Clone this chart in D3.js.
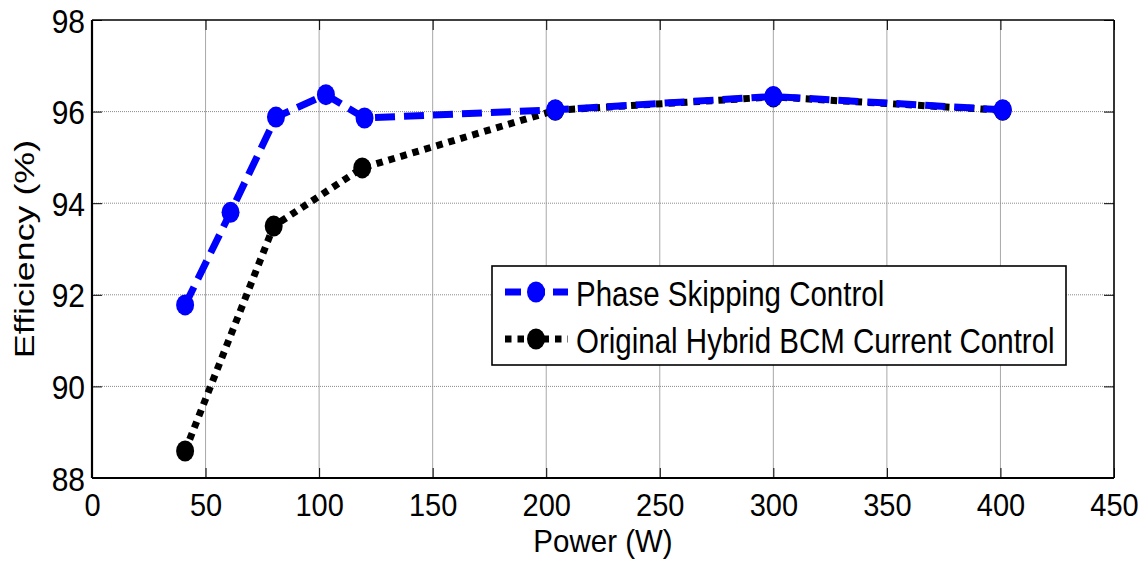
<!DOCTYPE html>
<html>
<head>
<meta charset="utf-8">
<script src="https://cdn.jsdelivr.net/npm/d3@7"></script>
<style>
  html, body { margin: 0; padding: 0; background: #fff; }
  svg { display: block; font-family: "Liberation Sans", Arial, sans-serif; }
</style>
</head>
<body>
<svg id="chart" width="1148" height="561"></svg>
<script>
// ---- data ----
const xTicks = [0, 50, 100, 150, 200, 250, 300, 350, 400, 450];
const yTicks = [88, 90, 92, 94, 96, 98];
const phaseSkipPower = [41, 61, 81, 103, 120, 204, 300, 401];
const phaseSkipEff   = [91.78, 93.80, 95.88, 96.37, 95.86, 96.04, 96.33, 96.04];
const hybridPower    = [41, 80, 119, 204, 300, 401];
const hybridEff      = [88.59, 93.50, 94.77, 96.03, 96.32, 96.03];
const seriesNames = ["Phase Skipping Control", "Original Hybrid BCM Current Control"];
const xTitle = "Power (W)";
const yTitle = "Efficiency (%)";

// ---- layout ----
const L = 92, R = 1114, T = 20, B = 478;
const svg = d3.select("#chart");
const x = d3.scaleLinear().domain([0, 450]).range([L, R]);
const y = d3.scaleLinear().domain([88, 98]).range([B, T]);

// grid
const grid = svg.append("g");
grid.selectAll("line.vg").data(xTicks.slice(1, -1)).join("line")
  .attr("x1", d => x(d)).attr("x2", d => x(d)).attr("y1", T).attr("y2", B)
  .attr("stroke", "#a8a8a8").attr("stroke-width", 1);
grid.selectAll("line.hg").data(yTicks.slice(1, -1)).join("line")
  .attr("x1", L).attr("x2", R).attr("y1", d => y(d)).attr("y2", d => y(d))
  .attr("stroke", "#8a8a8a").attr("stroke-width", 1).attr("stroke-dasharray", "1,1");

const xAxis = svg.append("g").attr("transform", `translate(0,${B})`)
  .call(d3.axisBottom(x).tickValues(xTicks).tickSizeInner(-10).tickSizeOuter(0).tickFormat(d3.format("d")));
xAxis.select(".domain").remove();
xAxis.selectAll(".tick line").attr("stroke", "#000");
xAxis.selectAll(".tick text").attr("font-size", 29).attr("fill", "#000")
  .attr("dy", null).attr("text-anchor", "middle")
  .each(function() { d3.select(this).attr("y", null).attr("transform", `translate(0,38) scale(1,1.07)`); });

const xAxisTop = svg.append("g").attr("transform", `translate(0,${T})`)
  .call(d3.axisTop(x).tickValues(xTicks).tickSizeInner(-10).tickSizeOuter(0).tickFormat(""));
xAxisTop.select(".domain").remove();
xAxisTop.selectAll(".tick line").attr("stroke", "#000");

const yAxis = svg.append("g").attr("transform", `translate(${L},0)`)
  .call(d3.axisLeft(y).tickValues(yTicks).tickSizeInner(-10).tickSizeOuter(0).tickFormat(d3.format("d")));
yAxis.select(".domain").remove();
yAxis.selectAll(".tick line").attr("stroke", "#000");
yAxis.selectAll(".tick text").attr("font-size", 30).attr("fill", "#000")
  .attr("dy", null).attr("text-anchor", "end")
  .each(function() { d3.select(this).attr("x", null).attr("y", null).attr("transform", `translate(-7,12) scale(1,1.13)`); });

const yAxisRight = svg.append("g").attr("transform", `translate(${R},0)`)
  .call(d3.axisRight(y).tickValues(yTicks).tickSizeInner(-10).tickSizeOuter(0).tickFormat(""));
yAxisRight.select(".domain").remove();
yAxisRight.selectAll(".tick line").attr("stroke", "#000");

// frame
svg.append("line").attr("x1", L).attr("x2", R).attr("y1", B).attr("y2", B).attr("stroke", "#000").attr("stroke-width", 2.2);
svg.append("line").attr("x1", L).attr("x2", L).attr("y1", T).attr("y2", B).attr("stroke", "#000").attr("stroke-width", 2.2);
svg.append("line").attr("x1", L).attr("x2", R).attr("y1", T).attr("y2", T).attr("stroke", "#000").attr("stroke-width", 1.6);
svg.append("line").attr("x1", R).attr("x2", R).attr("y1", T).attr("y2", B).attr("stroke", "#000").attr("stroke-width", 1.6);

// titles
svg.append("text").text(xTitle).attr("font-size", 29.5).attr("text-anchor", "middle").attr("fill", "#000")
  .attr("transform", `translate(${(L + R) / 2},552) scale(1,1.05)`);
svg.append("text").text(yTitle).attr("font-size", 28).attr("text-anchor", "middle").attr("fill", "#000")
  .attr("transform", `translate(34,${(T + B) / 2}) scale(1,1.28) rotate(-90)`);

// series
const styles = [
  { color: "#0000ff", dash: "20,9", width: 7, px: phaseSkipPower, py: phaseSkipEff, legDash: "16,8" },
  { color: "#000000", dash: "6.5,6", width: 7, px: hybridPower, py: hybridEff, legDash: "6.5,6" }
];
const line = d3.line().x(d => x(d[0])).y(d => y(d[1]));
[styles[1], styles[0]].forEach(s => {
  const pts = s.px.map((p, i) => [p, s.py[i]]);
  svg.append("path").datum(pts).attr("d", line).attr("fill", "none")
    .attr("stroke", s.color).attr("stroke-width", s.width).attr("stroke-dasharray", s.dash);
  svg.append("g").selectAll("ellipse").data(pts).join("ellipse")
    .attr("cx", d => x(d[0])).attr("cy", d => y(d[1])).attr("rx", 9).attr("ry", 10.5)
    .attr("fill", s.color);
});

// legend
const lg = svg.append("g");
lg.append("rect").attr("x", 492).attr("y", 266).attr("width", 574).attr("height", 99)
  .attr("fill", "#fff").attr("stroke", "#000").attr("stroke-width", 1.6);
const rowsY = [292, 339];
styles.forEach((s, i) => {
  lg.append("line").attr("x1", 505).attr("x2", 568).attr("y1", rowsY[i]).attr("y2", rowsY[i])
    .attr("stroke", s.color).attr("stroke-width", s.width).attr("stroke-dasharray", s.legDash);
  lg.append("ellipse").attr("cx", 536).attr("cy", rowsY[i]).attr("rx", 9).attr("ry", 10.5).attr("fill", s.color);
  lg.append("text").text(seriesNames[i]).attr("font-size", 29.5).attr("fill", "#000")
    .attr("transform", `translate(576,${rowsY[i] + 14}) scale(1,1.2)`);
});
</script>
</body>
</html>
